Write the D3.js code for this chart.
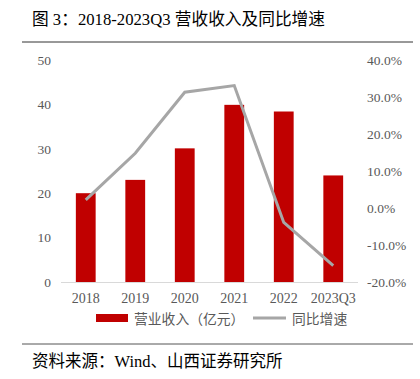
<!DOCTYPE html>
<html><head><meta charset="utf-8">
<script src="https://cdn.jsdelivr.net/npm/d3@7"></script>
<style>body{margin:0;background:#fff}svg{display:block}</style>
</head><body><svg id="c" width="420" height="379"></svg>
<script>
const categories = ["2018","2019","2020","2021","2022","2023Q3"];
const revenue = [20.0, 23.0, 30.1, 39.9, 38.4, 24.0];
const growth = [2.2, 14.8, 31.3, 33.1, -3.9, -15.6];
const leftTicks = [0,10,20,30,40,50];
const rightTicks = [-20,-10,0,10,20,30,40];
const title = "图 3：2018-2023Q3 营收收入及同比增速";
const source = "资料来源：Wind、山西证券研究所";
const legendBar = "营业收入（亿元）";
const legendLine = "同比增速";

const svg = d3.select("#c");
const font = "'Liberation Serif','Noto Sans CJK SC',serif";
const cjk = "'Liberation Serif','Noto Sans CJK SC',sans-serif";
const x = d3.scaleBand().domain(categories).range([61, 358]).paddingInner(0.6).paddingOuter(0.3);
const yL = d3.scaleLinear().domain([0,50]).range([282,60]);
const yR = d3.scaleLinear().domain([-20,40]).range([282,60]);

svg.append("text").attr("x",32).attr("y",25).attr("font-family",cjk).attr("font-size",16.7).attr("fill","#000").text(title);
svg.append("line").attr("x1",22).attr("x2",413).attr("y1",42).attr("y2",42).attr("stroke","#333").attr("stroke-width",1);

const gL = svg.append("g").attr("transform","translate(61,0)")
  .call(d3.axisLeft(yL).tickValues(leftTicks).tickSize(0).tickPadding(10).tickFormat(d3.format("d")));
gL.select(".domain").remove();
const gR = svg.append("g").attr("transform","translate(358,0)")
  .call(d3.axisRight(yR).tickValues(rightTicks).tickSize(0).tickPadding(9).tickFormat(d=>d.toFixed(1)+"%"));
gR.select(".domain").remove();
[gL,gR].forEach(g=>g.selectAll("text").attr("font-family",font).attr("font-size",13.5).attr("fill","#595959"));

svg.selectAll("rect.bar").data(categories).enter().append("rect").attr("class","bar")
  .attr("x",d=>x(d)).attr("width",x.bandwidth())
  .attr("y",(d,i)=>yL(revenue[i])).attr("height",(d,i)=>yL(0)-yL(revenue[i]))
  .attr("fill","#C00000");

svg.append("line").attr("x1",61).attr("x2",358).attr("y1",282.5).attr("y2",282.5).attr("stroke","#D9D9D9").attr("stroke-width",1);

const gX = svg.append("g").attr("transform","translate(0,282)")
  .call(d3.axisBottom(x).tickSize(0).tickPadding(11));
gX.select(".domain").remove();
gX.selectAll("text").attr("font-family",font).attr("font-size",14).attr("fill","#595959");

const line = d3.line().x((d,i)=>x(categories[i])+x.bandwidth()/2).y(d=>yR(d));
svg.append("path").datum(growth).attr("d",line).attr("fill","none").attr("stroke","#A6A6A6").attr("stroke-width",3);

svg.append("rect").attr("x",96).attr("y",314).attr("width",32).attr("height",8).attr("fill","#C00000");
svg.append("text").attr("x",134).attr("y",323.5).attr("font-family",cjk).attr("font-size",13.8).attr("fill","#595959").text(legendBar);
svg.append("line").attr("x1",253).attr("x2",286).attr("y1",318).attr("y2",318).attr("stroke","#A6A6A6").attr("stroke-width",3);
svg.append("text").attr("x",292).attr("y",323.5).attr("font-family",cjk).attr("font-size",13.8).attr("fill","#595959").text(legendLine);

svg.append("line").attr("x1",22).attr("x2",413).attr("y1",344).attr("y2",344).attr("stroke","#555").attr("stroke-width",1);
svg.append("text").attr("x",32).attr("y",367).attr("font-family",cjk).attr("font-size",16.5).attr("fill","#000").text(source);
</script></body></html>
